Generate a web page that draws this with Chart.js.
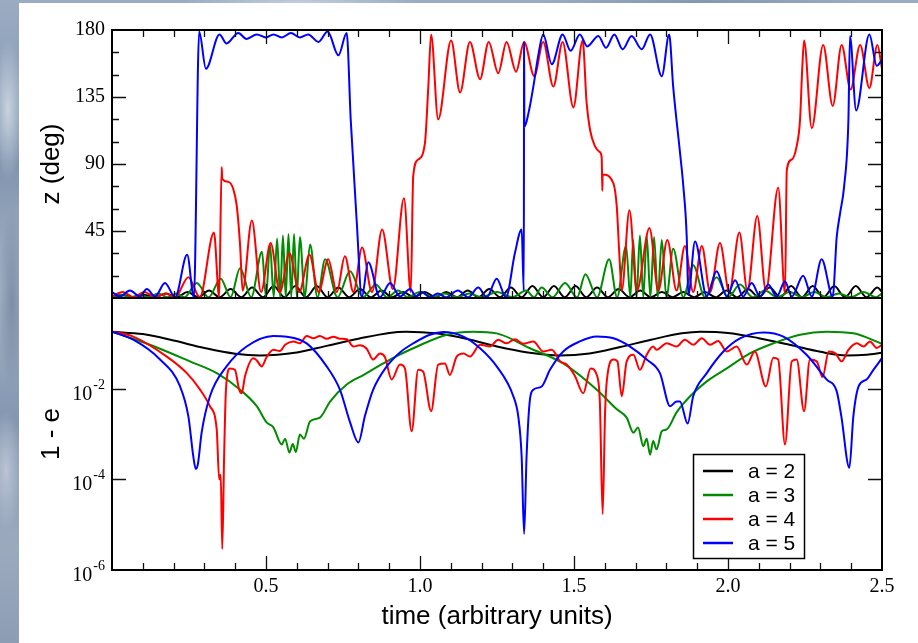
<!DOCTYPE html>
<html>
<head>
<meta charset="utf-8">
<script src="https://cdn.jsdelivr.net/npm/chart.js@4.4.1/dist/chart.umd.min.js"></script>
<style>
  html, body { margin: 0; padding: 0; }
  body {
    width: 918px; height: 643px; overflow: hidden; position: relative;
    background:
      radial-gradient(ellipse 16px 70px at 8px 110px, rgba(222,229,238,0.75), transparent),
      radial-gradient(ellipse 14px 90px at 12px 300px, rgba(95,114,142,0.55), transparent),
      radial-gradient(ellipse 16px 60px at 6px 470px, rgba(214,221,232,0.6), transparent),
      radial-gradient(ellipse 120px 6px at 300px 2px, rgba(215,223,235,0.7), transparent),
      radial-gradient(ellipse 160px 6px at 700px 2px, rgba(110,128,156,0.5), transparent),
      linear-gradient(180deg, #9aabc2 0%, #8194ae 25%, #a4b2c5 45%, #8497b1 65%, #9caabe 85%, #8c9db4 100%);
  }
  #panel { position: absolute; left: 19px; top: 3px; right: 0; bottom: 0; background: #fff; }
  canvas { position: absolute; left: 0; top: 0; }
</style>
</head>
<body>
<div id="panel"></div>
<canvas id="zChart" width="918" height="643"></canvas>
<canvas id="eChart" width="918" height="643"></canvas>
<script>
// series labels and colours
const seriesLabels = ['a = 2', 'a = 3', 'a = 4', 'a = 5'];
const seriesColors = ['#000000', '#008b00', '#ff0000', '#0000ff'];

// top panel: z (deg) against time
const zTime2 = [0,0.035,0.07,0.105,0.14,0.175,0.21,0.245,0.28,0.315,0.35,0.385,0.42,0.455,0.49,0.525,0.56,0.595,0.63,0.665,0.70,0.735,0.77,0.805,0.84,0.875,0.91,0.945,0.98,1.015,1.05,1.085,1.12,1.155,1.19,1.225,1.26,1.295,1.33,1.365,1.40,1.435,1.47,1.505,1.54,1.575,1.61,1.645,1.68,1.715,1.75,1.785,1.82,1.855,1.89,1.925,1.96,1.995,2.03,2.065,2.10,2.135,2.17,2.205,2.24,2.275,2.31,2.345,2.38,2.415,2.45,2.485,2.5];
const zDeg2 = [0.5,2,0.5,2,0.5,3,0.5,4,0.5,5,0.5,6,0.5,7,0.5,8,0.5,8,0.5,8,0.5,7,0.5,6,0.5,5,0.5,4,0.5,4,0.5,4,0.5,5,0.5,6,0.5,7,0.5,8,0.5,8,0.5,8,0.5,7,0.5,6,0.5,5,0.5,4,0.5,4,0.5,4,0.5,5,0.5,6,0.5,7,0.5,8,0.5,8,0.5,8,0.5,8,0.5,7,4];

const zTime3 = [0,0.03,0.06,0.09,0.12,0.15,0.18,0.21,0.235,0.275,0.314,0.353,0.385,0.416,0.452,0.487,0.5,0.513,0.525,0.536,0.546,0.555,0.564,0.573,0.582,0.591,0.6,0.61,0.626,0.643,0.667,0.692,0.732,0.773,0.815,0.857,0.893,0.929,0.96,1.0,1.04,1.08,1.12,1.16,1.2,1.25,1.3,1.345,1.37,1.395,1.43,1.471,1.51,1.537,1.575,1.614,1.64,1.669,1.683,1.692,1.703,1.714,1.725,1.736,1.748,1.76,1.772,1.785,1.8,1.822,1.855,1.887,1.925,1.963,2.0,2.039,2.08,2.12,2.16,2.2,2.24,2.28,2.32,2.36,2.4,2.44,2.48,2.5];
const zDeg3 = [1,2,0.5,2,0.5,3,0.5,3,0.5,10,0.5,13,0.5,20,0.5,31,0.5,36,0.5,40,0.5,42,0.5,43,0.5,43,0.5,41,0.5,36,0.5,26,0.5,18,0.5,9,0.5,5,0.5,4,0.5,3,0.5,3,0.5,4,0.5,5,0.5,7,0.5,10,0.5,16,0.5,26,0.5,35,0.5,39,0.5,42,0.5,42,0.5,41,0.5,39,0.5,33,0.5,22,0.5,14,0.5,9,0.5,5,0.5,4,0.5,4,0.5,3,0.5,4,0.5,3];

const zTime4 = [0,0.035,0.07,0.105,0.14,0.175,0.205,0.248,0.285,0.331,0.348,0.356,0.358,0.378,0.394,0.405,0.416,0.424,0.454,0.484,0.515,0.545,0.576,0.608,0.641,0.671,0.702,0.730,0.756,0.784,0.812,0.844,0.877,0.912,0.948,0.970,0.978,0.994,1.016,1.027,1.036,1.059,1.101,1.130,1.162,1.195,1.223,1.254,1.281,1.312,1.338,1.371,1.400,1.433,1.463,1.498,1.528,1.541,1.552,1.568,1.584,1.590,1.592,1.593,1.628,1.639,1.647,1.655,1.680,1.704,1.745,1.774,1.803,1.833,1.860,1.887,1.915,1.942,1.974,2.004,2.037,2.063,2.095,2.123,2.163,2.185,2.191,2.207,2.223,2.234,2.241,2.247,2.272,2.309,2.340,2.369,2.398,2.429,2.459,2.485,2.5];
const zDeg4 = [1,4,0.5,4,0.5,3,0.5,14,0.5,44,0.5,88,80,78,73,62,35,5,52,4,37,4,30,4,29,4,26,4,28,4,34,4,46,6,67,4,82,93,104,142,177,120,173,138,172,147,172,151,172,152,172,149,172,142,172,128,173,131,113,102,98,94,72,83,77,61,30,5,59,5,47,5,39,5,35,4,35,4,37,4,44,5,55,5,74,3,86,93,102,120,154,173,114,170,129,170,140,170,141,170,154];

const zTime5 = [0,0.026,0.058,0.091,0.113,0.140,0.172,0.205,0.244,0.266,0.283,0.305,0.349,0.372,0.410,0.437,0.470,0.500,0.524,0.551,0.581,0.610,0.637,0.670,0.700,0.735,0.762,0.775,0.795,0.811,0.832,0.870,0.903,0.935,0.968,0.987,1.006,1.032,1.058,1.084,1.123,1.157,1.189,1.217,1.249,1.279,1.308,1.330,1.337,1.338,1.339,1.352,1.368,1.384,1.400,1.428,1.463,1.489,1.519,1.543,1.579,1.604,1.631,1.658,1.687,1.720,1.747,1.785,1.809,1.822,1.844,1.855,1.866,1.871,1.893,1.931,1.963,1.996,2.023,2.049,2.077,2.104,2.131,2.158,2.185,2.207,2.244,2.272,2.304,2.340,2.353,2.364,2.377,2.391,2.396,2.416,2.459,2.483,2.5];
const zDeg5 = [4,1,5,1,6,1,10,0.5,29,0.5,179,154,177,171,178,174,177,175,177,175,178,175,177,172,179,163,178,120,50,0.5,24,0.5,10,1,6,1,4,0.5,3,0.5,5,0.5,7,0.5,13,0.5,30,46,5,172,115,124,142,163,177,157,177,166,177,169,176,168,177,167,176,167,177,149,177,142,98,75,41,2,38,1,18,1,12,1,10,1,9,1,11,1,15,1,26,1,41,57,75,120,176,126,177,156,160];

// bottom panel: 1 - e against time (log axis)
const eTime2 = [0,0.1,0.2,0.3,0.4,0.48,0.6,0.7,0.8,0.9,0.955,1.05,1.15,1.25,1.35,1.455,1.55,1.65,1.75,1.85,1.91,2.0,2.1,2.2,2.3,2.385,2.45,2.5];
const eVal2 = [0.18,0.16,0.115,0.079,0.059,0.054,0.063,0.089,0.126,0.17,0.18,0.166,0.126,0.085,0.063,0.054,0.060,0.083,0.12,0.166,0.18,0.17,0.13,0.093,0.065,0.054,0.056,0.062];

const eTime3 = [0,0.123,0.253,0.34,0.416,0.47,0.502,0.524,0.551,0.562,0.576,0.587,0.597,0.61,0.623,0.643,0.675,0.708,0.762,0.816,0.881,0.924,0.978,1.087,1.173,1.249,1.357,1.465,1.574,1.639,1.671,1.693,1.708,1.725,1.736,1.747,1.757,1.768,1.785,1.801,1.833,1.877,1.931,1.996,2.071,2.147,2.234,2.32,2.407,2.5];
const eVal3 = [0.18,0.093,0.04,0.022,0.0095,0.0041,0.0018,0.0014,0.00059,0.00079,0.00039,0.0006,0.0004,0.00098,0.00079,0.0019,0.0023,0.0052,0.0123,0.02,0.036,0.052,0.078,0.155,0.18,0.166,0.078,0.036,0.0095,0.0035,0.0023,0.00107,0.0014,0.00054,0.00079,0.00035,0.0007,0.00046,0.00115,0.00126,0.003,0.0068,0.0145,0.028,0.06,0.1,0.155,0.18,0.166,0.098];

const eTime4 = [0,0.069,0.178,0.243,0.286,0.318,0.34,0.348,0.353,0.358,0.364,0.37,0.383,0.399,0.413,0.421,0.432,0.459,0.47,0.486,0.502,0.524,0.545,0.562,0.589,0.61,0.632,0.654,0.675,0.697,0.719,0.74,0.762,0.784,0.805,0.827,0.848,0.87,0.886,0.908,0.935,0.951,0.973,0.994,1.01,1.036,1.059,1.081,1.097,1.119,1.141,1.162,1.195,1.227,1.254,1.281,1.308,1.335,1.368,1.4,1.428,1.455,1.476,1.503,1.53,1.554,1.574,1.584,1.593,1.601,1.607,1.628,1.641,1.655,1.671,1.693,1.714,1.736,1.757,1.768,1.801,1.833,1.86,1.887,1.915,1.942,1.968,1.996,2.028,2.061,2.087,2.123,2.147,2.163,2.185,2.207,2.223,2.247,2.266,2.288,2.307,2.327,2.349,2.369,2.391,2.418,2.44,2.461,2.483,2.5];
const eVal4 = [0.18,0.141,0.051,0.022,0.0095,0.0041,0.00126,0.0001,0.000126,0.0000029,0.00032,0.0095,0.028,0.026,0.0095,0.0079,0.019,0.047,0.042,0.031,0.05,0.072,0.068,0.093,0.11,0.1,0.145,0.13,0.145,0.126,0.14,0.126,0.123,0.085,0.091,0.076,0.044,0.06,0.05,0.016,0.034,0.028,0.00115,0.026,0.024,0.0032,0.034,0.036,0.02,0.051,0.06,0.051,0.093,0.085,0.12,0.1,0.123,0.098,0.11,0.066,0.072,0.04,0.034,0.019,0.0079,0.028,0.02,0.005,0.000017,0.0032,0.016,0.044,0.04,0.0068,0.04,0.056,0.026,0.056,0.085,0.072,0.1,0.085,0.12,0.093,0.129,0.093,0.112,0.066,0.085,0.034,0.066,0.0112,0.048,0.044,0.00059,0.04,0.044,0.0032,0.044,0.04,0.018,0.066,0.06,0.04,0.072,0.1,0.085,0.11,0.079,0.093];

const eTime5 = [0,0.069,0.156,0.221,0.248,0.264,0.272,0.279,0.291,0.318,0.372,0.437,0.524,0.567,0.632,0.697,0.74,0.773,0.8,0.821,0.848,0.892,0.935,0.978,1.032,1.076,1.141,1.195,1.249,1.303,1.319,1.33,1.338,1.346,1.357,1.368,1.395,1.422,1.465,1.519,1.574,1.628,1.682,1.736,1.779,1.812,1.833,1.844,1.869,1.887,1.931,1.985,2.039,2.115,2.18,2.255,2.32,2.353,2.368,2.394,2.407,2.424,2.45,2.472,2.5];
const eVal5 = [0.18,0.12,0.044,0.0112,0.00245,0.00032,0.00017,0.00022,0.00107,0.0068,0.031,0.085,0.145,0.14,0.1,0.031,0.0095,0.0018,0.00065,0.00245,0.0095,0.031,0.063,0.1,0.155,0.178,0.141,0.078,0.031,0.0068,0.00245,0.00032,0.0000062,0.00032,0.0058,0.0095,0.0112,0.026,0.066,0.11,0.141,0.129,0.085,0.044,0.022,0.0041,0.0052,0.0052,0.0017,0.0068,0.022,0.066,0.129,0.174,0.141,0.056,0.016,0.0087,0.00245,0.00018,0.00245,0.0112,0.016,0.026,0.047];

// tick positions
const timeMajorTicks = [0.5, 1.0, 1.5, 2.0];
const timeMinorTicks = [0.1,0.2,0.3,0.4,0.6,0.7,0.8,0.9,1.1,1.2,1.3,1.4,1.6,1.7,1.8,1.9,2.1,2.2,2.3,2.4];
const zMajorTicks = [45, 90, 135];
const zMinorTicks = [15, 30, 60, 75, 105, 120, 150, 165];
const eMajorTicks = [1e-2, 1e-4];
const eLabelValues = [1e-2, 1e-4, 1e-6];
const eLabelExponents = ['-2', '-4', '-6'];

const serif = '"Liberation Serif", "Times New Roman", serif';
const sans = '"Liberation Sans", Arial, sans-serif';

Chart.defaults.color = '#000';

function makeSet(i, xs, ys) {
  return {
    label: seriesLabels[i],
    data: xs.map((t, k) => ({ x: t, y: ys[k] })),
    borderColor: seriesColors[i],
    borderWidth: 2,
    pointRadius: 0,
    fill: false,
    cubicInterpolationMode: 'monotone',
    borderJoinStyle: 'round',
    order: 4 - i
  };
}

// frame with inward ticks on all sides
const framePlugin = {
  id: 'frame',
  afterDatasetsDraw(chart, args, o) {
    const { ctx, chartArea: a } = chart;
    const xs = chart.scales.x, ys = chart.scales.y;
    ctx.save();
    ctx.strokeStyle = '#111';
    ctx.lineWidth = 1.3;
    ctx.beginPath();
    const xTicks = (list, len) => list.forEach(v => {
      const px = Math.round(xs.getPixelForValue(v)) + 0.5;
      if (o.xTop) { ctx.moveTo(px, a.top); ctx.lineTo(px, a.top + len); }
      ctx.moveTo(px, a.bottom); ctx.lineTo(px, a.bottom - len);
    });
    const yTicks = (list, len) => list.forEach(v => {
      const py = Math.round(ys.getPixelForValue(v)) + 0.5;
      ctx.moveTo(a.left, py); ctx.lineTo(a.left + len, py);
      ctx.moveTo(a.right, py); ctx.lineTo(a.right - len, py);
    });
    xTicks(o.xMajor, 14);
    xTicks(o.xMinor, 7);
    yTicks(o.yMajor, 14);
    yTicks(o.yMinor || [], 7);
    ctx.stroke();
    ctx.strokeStyle = '#000';
    ctx.lineWidth = 2;
    ctx.strokeRect(a.left, a.top, a.right - a.left, a.bottom - a.top);
    ctx.restore();
  }
};

// 10^n labels for the log axis
const powerLabels = {
  id: 'powerLabels',
  afterDraw(chart, args, o) {
    const { ctx } = chart;
    const ys = chart.scales.y;
    ctx.save();
    ctx.fillStyle = '#000';
    ctx.textAlign = 'right';
    ctx.textBaseline = 'alphabetic';
    o.values.forEach((v, i) => {
      const py = ys.getPixelForValue(v);
      ctx.font = '14px ' + serif;
      ctx.fillText(o.exponents[i], 105, py);
      const w = ctx.measureText(o.exponents[i]).width;
      ctx.font = '20px ' + serif;
      ctx.fillText('10', 105 - w - 1, py + 11);
    });
    ctx.restore();
  }
};

// boxed legend inside the lower panel
const boxLegend = {
  id: 'boxLegend',
  afterDraw(chart, args, o) {
    const { ctx } = chart;
    ctx.save();
    ctx.fillStyle = '#fff';
    ctx.fillRect(o.left, o.top, o.width, o.height);
    ctx.strokeStyle = '#000';
    ctx.lineWidth = 1.5;
    ctx.strokeRect(o.left + 0.5, o.top + 0.5, o.width, o.height);
    const sets = chart.data.datasets;
    sets.forEach((ds, i) => {
      const y = o.top + 17 + i * 24;
      ctx.strokeStyle = ds.borderColor;
      ctx.lineWidth = 2.5;
      ctx.beginPath();
      ctx.moveTo(o.left + 10, y);
      ctx.lineTo(o.left + 40, y);
      ctx.stroke();
      ctx.fillStyle = '#000';
      ctx.font = '21px ' + sans;
      ctx.textAlign = 'left';
      ctx.textBaseline = 'middle';
      ctx.fillText(ds.label, o.left + 55, y + 1);
    });
    ctx.restore();
  }
};

new Chart(document.getElementById('zChart'), {
  type: 'line',
  data: {
    datasets: [
      makeSet(0, zTime2, zDeg2),
      makeSet(1, zTime3, zDeg3),
      makeSet(2, zTime4, zDeg4),
      makeSet(3, zTime5, zDeg5)
    ]
  },
  options: {
    responsive: false,
    animation: false,
    devicePixelRatio: 1,
    layout: { padding: { top: 30, right: 36, bottom: 345, left: 0 } },
    plugins: {
      legend: { display: false },
      tooltip: { enabled: false },
      frame: { xMajor: timeMajorTicks, xMinor: timeMinorTicks, xTop: true, yMajor: zMajorTicks, yMinor: zMinorTicks }
    },
    scales: {
      x: { type: 'linear', min: 0, max: 2.5, display: false },
      y: {
        min: 0, max: 180,
        afterFit(scale) { scale.width = 112; },
        grid: { display: false, drawTicks: false },
        border: { display: false },
        ticks: {
          stepSize: 45, padding: 7, color: '#000',
          font: { family: serif, size: 20 },
          callback: v => (v === 0 ? '' : v)
        },
        title: {
          display: true, text: 'z (deg)', color: '#000',
          font: { family: sans, size: 26 },
          padding: { top: 36, bottom: 0 }
        }
      }
    }
  },
  plugins: [framePlugin]
});

new Chart(document.getElementById('eChart'), {
  type: 'line',
  data: {
    datasets: [
      makeSet(0, eTime2, eVal2),
      makeSet(1, eTime3, eVal3),
      makeSet(2, eTime4, eVal4),
      makeSet(3, eTime5, eVal5)
    ]
  },
  options: {
    responsive: false,
    animation: false,
    devicePixelRatio: 1,
    layout: { padding: { top: 298, right: 36, bottom: 0, left: 0 } },
    plugins: {
      legend: { display: false },
      tooltip: { enabled: false },
      frame: { xMajor: timeMajorTicks, xMinor: timeMinorTicks, xTop: false, yMajor: eMajorTicks },
      powerLabels: { values: eLabelValues, exponents: eLabelExponents },
      boxLegend: { left: 693, top: 454, width: 111, height: 104 }
    },
    scales: {
      x: {
        type: 'linear', min: 0, max: 2.5,
        afterFit(scale) { scale.height = 73; },
        grid: { display: false, drawTicks: false },
        border: { display: false },
        ticks: {
          stepSize: 0.5, padding: 5, maxRotation: 0, autoSkip: false, color: '#000',
          font: { family: serif, size: 20 },
          callback: v => (v === 0 ? '' : v.toFixed(1))
        },
        title: {
          display: true, text: 'time (arbitrary units)', color: '#000',
          font: { family: sans, size: 26 },
          padding: { top: 0, bottom: 11 }
        }
      },
      y: {
        type: 'logarithmic', min: 1e-6, max: 1,
        afterFit(scale) { scale.width = 112; },
        grid: { display: false, drawTicks: false },
        border: { display: false },
        ticks: { display: false },
        title: {
          display: true, text: '1 - e', color: '#000',
          font: { family: sans, size: 26 },
          padding: { top: 36, bottom: 0 }
        }
      }
    }
  },
  plugins: [framePlugin, powerLabels, boxLegend]
});
</script>
</body>
</html>
